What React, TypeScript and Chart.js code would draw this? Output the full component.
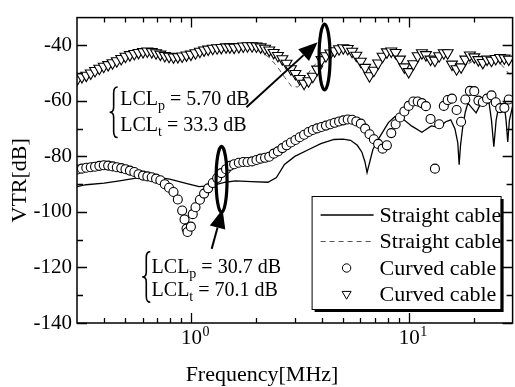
import React, { useEffect, useRef } from 'react';
import { Chart, registerables } from 'chart.js';

Chart.register(...registerables);

const FONT = '"Liberation Serif", "Times New Roman", serif';

// ---------- data ----------
const markerFreqMHz = [
  0.302, 0.316, 0.331, 0.347, 0.363, 0.380, 0.398, 0.417, 0.437, 0.457,
  0.479, 0.501, 0.525, 0.550, 0.575, 0.603, 0.631, 0.661, 0.692, 0.724,
  0.759, 0.794, 0.832, 0.871, 0.912, 0.955, 1.00, 1.05, 1.10, 1.15,
  1.20, 1.26, 1.32, 1.38, 1.45, 1.51, 1.58, 1.66, 1.74, 1.82,
  1.91, 2.00, 2.09, 2.19, 2.29, 2.40, 2.51, 2.63, 2.75, 2.88,
  3.02, 3.16, 3.31, 3.47, 3.63, 3.80, 3.98, 4.17, 4.37, 4.57,
  4.79, 5.01, 5.25, 5.50, 5.75, 6.03, 6.31, 6.61, 6.92, 7.24,
  7.59, 7.94, 8.32, 8.71, 9.12, 9.55, 10.0, 10.5, 11.0, 11.5,
  12.0, 12.6, 13.2, 13.8, 14.5, 15.1, 15.8, 16.6, 17.4, 18.2,
  19.1, 20.0, 20.9, 21.9, 22.9, 24.0, 25.1, 26.3, 27.5, 28.8,
];

const curvedTriangleVTR = [
  -52.0, -51.3, -50.8, -50.0, -49.1, -48.3, -47.6, -47.0, -46.3, -45.6,
  -44.8, -44.0, -43.4, -43.0, -42.6, -42.3, -42.1, -42.3, -42.7, -43.2,
  -43.7, -44.0, -44.2, -44.1, -43.9, -43.5, -43.2, -42.7, -42.2, -41.7,
  -41.4, -41.1, -40.9, -40.8, -40.6, -40.6, -40.7, -40.5, -40.3, -40.2,
  -40.2, -40.3, -40.6, -41.1, -41.7, -42.6, -43.7, -44.9, -46.5, -48.5,
  -50.2, -52.0, -53.7, -52.8, -51.2, -48.6, -45.2, -43.8, -42.8, -42.0,
  -41.3, -40.9, -41.2, -42.2, -43.6, -45.8, -48.0, -51.0, -49.0, -46.4,
  -44.0, -42.4, -42.1, -42.6, -45.0, -47.8, -49.5, -46.7, -43.8, -42.7,
  -43.4, -45.0, -45.4, -43.8, -42.7, -42.7, -46.8, -48.5, -47.8, -45.0,
  -43.5, -44.2, -45.2, -46.2, -45.0, -45.4, -44.8, -44.4, -44.6, -45.0,
];

const curvedCircleFreqMHz = [
  0.302, 0.316, 0.331, 0.347, 0.363, 0.380, 0.398, 0.417, 0.437, 0.457,
  0.479, 0.501, 0.525, 0.550, 0.575, 0.603, 0.631, 0.661, 0.692, 0.724,
  0.759, 0.794, 0.832, 0.871, 0.912, 0.935, 0.955, 0.965, 1.00, 1.02,
  1.05, 1.10, 1.15,
  1.20, 1.26, 1.32, 1.38, 1.45, 1.51, 1.58, 1.66, 1.74, 1.82,
  1.91, 2.00, 2.09, 2.19, 2.29, 2.40, 2.51, 2.63, 2.75, 2.88,
  3.02, 3.16, 3.31, 3.47, 3.63, 3.80, 3.98, 4.17, 4.37, 4.57,
  4.79, 5.01, 5.25, 5.50, 5.75, 6.03, 6.31, 6.61, 6.92, 7.24,
  7.59, 7.94, 8.32, 8.71, 9.12, 9.55, 10.0, 10.5, 11.0, 11.5,
  12.0, 12.6, 13.2, 13.8, 14.5, 15.1, 15.8, 16.6, 17.4, 18.2,
  19.1, 20.0, 20.9, 21.9, 22.9, 24.0, 25.1, 26.3, 27.5, 28.8,
];
const curvedCircleVTR = [
  -84.7, -84.4, -84.1, -83.9, -83.7, -83.4, -83.2, -83.3, -83.6, -83.9,
  -84.2, -84.6, -85.1, -85.6, -86.4, -86.9, -87.2, -87.5, -88.0, -88.6,
  -90.0, -91.3, -92.8, -95.5, -99.5, -102.7, -106.0, -107.2, -105.3, -100.8,
  -98.3, -95.6, -93.4,
  -91.5, -89.6, -87.8, -86.0, -84.6, -83.4, -82.8, -82.3, -82.0, -82.0,
  -81.8, -81.3, -80.8, -80.5, -80.1, -79.0, -78.2, -77.0, -76.0, -75.0,
  -74.1, -73.1, -72.2, -71.2, -70.5, -69.9, -69.4, -68.9, -68.4, -67.9,
  -67.4, -67.0, -66.7, -66.8, -67.4, -68.2, -70.0, -72.0, -73.8, -75.5,
  -77.2, -76.0, -71.6, -68.4, -66.0, -63.8, -61.8, -60.2, -60.2, -60.8,
  -61.9, -66.5, -84.4, -68.4, -61.8, -59.7, -59.2, -63.3, -67.5, -59.5,
  -56.4, -56.5, -59.9, -60.4, -59.2, -58.0, -60.5, -62.6, -62.5, -59.5,
];

const straightSolidFreqMHz = [
  0.30, 0.33, 0.40, 0.47, 0.56, 0.67, 0.80, 0.95, 1.09, 1.25,
  1.44, 1.60, 1.90, 2.26, 2.47, 2.69, 3.00, 3.44, 3.95, 4.54,
  5.00, 5.41, 5.81, 6.10, 6.30, 6.44, 6.60, 6.85, 7.28, 8.07,
  8.63, 9.25, 10.3, 11.5, 12.7, 13.8, 14.8, 15.6, 16.3, 16.8,
  17.05, 17.3, 17.7, 18.2, 18.7, 19.5, 20.4, 21.1, 21.8, 23.4,
  24.0, 24.6, 25.2, 25.9, 27.4, 28.0, 28.5, 29.0, 30.0,
];
const straightSolidVTR = [
  -90.9, -90.2, -89.6, -88.8, -87.8, -87.3, -88.2, -89.7, -90.9, -90.5,
  -89.3, -88.8, -89.1, -89.3, -87.6, -82.9, -80.0, -77.7, -75.4, -73.9,
  -73.8, -74.2, -76.0, -78.5, -82.0, -85.8, -82.5, -77.5, -73.6, -67.8,
  -65.7, -66.0, -69.0, -71.3, -69.0, -69.5, -67.5, -66.8, -70.0, -75.0,
  -83.0, -76.0, -69.5, -64.0, -60.8, -62.5, -64.3, -62.0, -60.8, -60.8,
  -67.0, -76.5, -67.0, -62.0, -60.8, -67.0, -74.8, -67.0, -62.0,
];

const straightDashedFreqMHz = [
  0.30, 0.35, 0.40, 0.45, 0.50, 0.56, 0.63, 0.70, 0.80, 0.90,
  1.00, 1.15, 1.30, 1.50, 1.70, 1.90, 2.10, 2.30, 2.50, 2.70,
  2.90, 3.10, 3.30, 3.60, 4.00, 4.50, 5.00, 5.50, 6.00, 6.40,
  6.80, 7.30, 8.00, 8.60, 9.20, 9.80, 10.3, 11.0, 11.8, 12.6,
  13.4, 14.3, 15.2, 16.0, 16.8, 17.6, 18.7, 20.0, 21.5, 23.0,
  24.5, 26.0, 27.3, 28.7, 30.0,
];
const straightDashedVTR = [
  -52.5, -50.6, -48.0, -46.2, -44.4, -43.3, -42.6, -43.1, -44.5, -44.6,
  -43.7, -42.2, -41.4, -41.0, -40.8, -41.0, -42.3, -44.5, -47.8, -51.6,
  -54.8, -55.0, -52.5, -48.0, -44.5, -42.3, -41.6, -43.0, -46.5, -50.5,
  -50.0, -46.5, -43.0, -43.2, -46.0, -49.5, -48.0, -44.5, -43.5, -45.5,
  -46.0, -43.5, -44.5, -48.0, -49.5, -48.0, -46.7, -45.5, -47.0, -46.0,
  -46.2, -46.0, -47.9, -50.0, -51.0,
];

const yTickValues = [-140, -120, -100, -80, -60, -40];
const yMinorTickValues = [-130, -110, -90, -70, -50];
const xMajorTickValues = [1, 10];
const xMajorTickExponents = ['0', '1'];
const xMinorTickValues = [0.4, 0.5, 0.6, 0.7, 0.8, 0.9, 2, 3, 4, 5, 6, 7, 8, 9, 20];

const xTitle = 'Frequency[MHz]';
const yTitle = 'VTR[dB]';
const legendOrder = [2, 3, 0, 1];

// annotation anchors (data coordinates)
const lclBlocks = [
  {
    braceF: 0.442, topV: -55.0, bottomV: -73.2, textF: 0.474,
    lines: [
      { sub: 'p', rest: ' = 5.70 dB', v: -61.6 },
      { sub: 't', rest: ' = 33.3 dB', v: -70.7 },
    ],
  },
  {
    braceF: 0.624, topV: -114.3, bottomV: -132.5, textF: 0.66,
    lines: [
      { sub: 'p', rest: ' = 30.7 dB', v: -122.0 },
      { sub: 't', rest: ' = 70.1 dB', v: -130.4 },
    ],
  },
];
const arrows = [
  { fromF: 1.80, fromV: -62.3, toF: 3.82, toV: -38.9 },
  { fromF: 1.246, fromV: -113.3, toF: 1.398, toV: -99.0 },
];
const rings = [
  { f: 4.11, v: -44.2 },
  { f: 1.383, v: -88.3 },
];

function toPoints(xs: number[], ys: number[]) {
  return xs.map((x, i) => ({ x, y: ys[i] }));
}

function drawArrow(ctx: CanvasRenderingContext2D, x1: number, y1: number, x2: number, y2: number, headLen: number, headW: number) {
  const ang = Math.atan2(y2 - y1, x2 - x1);
  const bx = x2 - headLen * Math.cos(ang);
  const by = y2 - headLen * Math.sin(ang);
  ctx.beginPath();
  ctx.moveTo(x1, y1);
  ctx.lineTo(bx, by);
  ctx.lineWidth = 2;
  ctx.stroke();
  const px = (-Math.sin(ang) * headW) / 2;
  const py = (Math.cos(ang) * headW) / 2;
  ctx.beginPath();
  ctx.moveTo(x2, y2);
  ctx.lineTo(bx + px, by + py);
  ctx.lineTo(bx - px, by - py);
  ctx.closePath();
  ctx.fill();
}

function drawBrace(ctx: CanvasRenderingContext2D, x: number, yTop: number, yBot: number) {
  const mid = (yTop + yBot) / 2;
  const w = 4;
  ctx.beginPath();
  ctx.moveTo(x + w, yTop);
  ctx.quadraticCurveTo(x, yTop, x, yTop + 6);
  ctx.lineTo(x, mid - 5);
  ctx.quadraticCurveTo(x, mid, x - w, mid);
  ctx.quadraticCurveTo(x, mid, x, mid + 5);
  ctx.lineTo(x, yBot - 6);
  ctx.quadraticCurveTo(x, yBot, x + w, yBot);
  ctx.lineWidth = 1.6;
  ctx.stroke();
}

function drawMarker(ctx: CanvasRenderingContext2D, style: string, x: number, y: number, r: number, rotationDeg: number) {
  ctx.beginPath();
  if (style === 'triangle') {
    let rad = (rotationDeg * Math.PI) / 180;
    ctx.moveTo(x + Math.sin(rad) * r, y - Math.cos(rad) * r);
    rad += (2 * Math.PI) / 3;
    ctx.lineTo(x + Math.sin(rad) * r, y - Math.cos(rad) * r);
    rad += (2 * Math.PI) / 3;
    ctx.lineTo(x + Math.sin(rad) * r, y - Math.cos(rad) * r);
    ctx.closePath();
  } else {
    ctx.arc(x, y, r, 0, Math.PI * 2);
  }
  ctx.fillStyle = '#fff';
  ctx.fill();
  ctx.strokeStyle = '#000';
  ctx.lineWidth = 1;
  ctx.stroke();
}

const decorPlugin = {
  id: 'decor',
  afterDatasetsDraw(chart: any) {
    const { ctx, chartArea: a, scales } = chart;
    const xs = scales.x;
    const ys = scales.y;
    ctx.save();
    ctx.strokeStyle = '#000';
    ctx.fillStyle = '#000';

    // frame
    ctx.lineWidth = 1.5;
    ctx.strokeRect(a.left, a.top, a.right - a.left, a.bottom - a.top);

    // tick marks (inward)
    ctx.lineWidth = 1.3;
    ctx.beginPath();
    const xt = (v: number, len: number) => {
      const px = Math.round(xs.getPixelForValue(v)) + 0.5;
      ctx.moveTo(px, a.bottom);
      ctx.lineTo(px, a.bottom - len);
      ctx.moveTo(px, a.top);
      ctx.lineTo(px, a.top + len);
    };
    xMajorTickValues.forEach((v) => xt(v, 10));
    xMinorTickValues.forEach((v) => xt(v, 5));
    const yt = (v: number, len: number) => {
      const py = Math.round(ys.getPixelForValue(v)) + 0.5;
      ctx.moveTo(a.left, py);
      ctx.lineTo(a.left + len, py);
      ctx.moveTo(a.right, py);
      ctx.lineTo(a.right - len, py);
    };
    yTickValues.forEach((v) => yt(v, 10));
    yMinorTickValues.forEach((v) => yt(v, 6));
    ctx.stroke();

    // x tick labels 10^n
    ctx.textBaseline = 'alphabetic';
    ctx.textAlign = 'left';
    xMajorTickValues.forEach((v, i) => {
      const px = xs.getPixelForValue(v);
      ctx.font = `21px ${FONT}`;
      const w10 = ctx.measureText('10').width;
      const x0 = px - 10;
      ctx.fillText('10', x0, a.bottom + 21);
      ctx.font = `14px ${FONT}`;
      ctx.fillText(xMajorTickExponents[i], x0 + w10 + 0.5, a.bottom + 13);
    });

    // axis titles
    ctx.font = `22px ${FONT}`;
    ctx.textAlign = 'center';
    ctx.fillText(xTitle, 262, a.bottom + 58);
    ctx.save();
    ctx.translate(a.left - 57, (a.top + a.bottom) / 2 + 10);
    ctx.rotate(-Math.PI / 2);
    ctx.textBaseline = 'middle';
    ctx.fillText(yTitle, 0, 0);
    ctx.restore();

    // LCL annotation blocks
    lclBlocks.forEach((b) => {
      const bx = xs.getPixelForValue(b.braceF);
      drawBrace(ctx, bx, ys.getPixelForValue(b.topV), ys.getPixelForValue(b.bottomV));
      const tx = xs.getPixelForValue(b.textF);
      b.lines.forEach((ln) => {
        const ty = ys.getPixelForValue(ln.v);
        ctx.textAlign = 'left';
        ctx.textBaseline = 'alphabetic';
        ctx.font = `20px ${FONT}`;
        ctx.fillText('LCL', tx, ty);
        let cx = tx + ctx.measureText('LCL').width;
        ctx.font = `14px ${FONT}`;
        ctx.fillText(ln.sub, cx, ty + 5);
        cx += ctx.measureText(ln.sub).width;
        ctx.font = `20px ${FONT}`;
        ctx.fillText(ln.rest, cx, ty);
      });
    });

    // rotation rings
    rings.forEach((r) => {
      ctx.beginPath();
      ctx.ellipse(xs.getPixelForValue(r.f), ys.getPixelForValue(r.v), 5.5, 33, 0, 0, Math.PI * 2);
      ctx.lineWidth = 3.2;
      ctx.stroke();
    });

    // arrows
    arrows.forEach((ar) => {
      drawArrow(
        ctx,
        xs.getPixelForValue(ar.fromF), ys.getPixelForValue(ar.fromV),
        xs.getPixelForValue(ar.toF), ys.getPixelForValue(ar.toV),
        19, 16,
      );
    });

    // legend
    const boxW = 189;
    const boxH = 113;
    const bxR = a.right - 12;
    const bxB = a.bottom - 14;
    const lx = bxR - boxW;
    const ly = bxB - boxH;
    ctx.fillStyle = '#000';
    ctx.fillRect(lx + 3, ly + 3, boxW, boxH);
    ctx.fillStyle = '#fff';
    ctx.fillRect(lx, ly, boxW, boxH);
    ctx.lineWidth = 1;
    ctx.strokeStyle = '#000';
    ctx.strokeRect(lx + 0.5, ly + 0.5, boxW, boxH);
    const rowY = [19, 45.5, 72, 98];
    legendOrder.forEach((di, i) => {
      const ds = chart.data.datasets[di];
      const cy = ly + rowY[i];
      if (ds.showLine === false) {
        drawMarker(ctx, ds.pointStyle, lx + 35, cy, ds.pointStyle === 'triangle' ? 5.2 : 4.2, ds.pointRotation || 0);
      } else {
        ctx.beginPath();
        ctx.setLineDash(ds.borderDash || []);
        ctx.strokeStyle = ds.borderColor;
        ctx.lineWidth = ds.borderWidth;
        ctx.moveTo(lx + 9, cy);
        ctx.lineTo(lx + 62, cy);
        ctx.stroke();
        ctx.setLineDash([]);
      }
      ctx.fillStyle = '#000';
      ctx.font = `22px ${FONT}`;
      ctx.textAlign = 'left';
      ctx.textBaseline = 'middle';
      ctx.fillText(ds.label, lx + 68, cy + 1);
    });

    ctx.restore();
  },
};

export default function App() {
  const ref = useRef<HTMLCanvasElement | null>(null);

  useEffect(() => {
    const canvas = ref.current;
    if (!canvas) return;
    const chart = new Chart(canvas, {
      type: 'line',
      data: {
        datasets: [
          {
            label: 'Curved cable',
            data: toPoints(curvedCircleFreqMHz, curvedCircleVTR),
            showLine: false,
            pointStyle: 'circle',
            pointRadius: 4.5,
            pointBackgroundColor: '#fff',
            pointBorderColor: '#000',
            pointBorderWidth: 1.1,
            order: 0,
          },
          {
            label: 'Curved cable',
            data: toPoints(markerFreqMHz, curvedTriangleVTR),
            showLine: false,
            pointStyle: 'triangle',
            pointRotation: 180,
            pointRadius: 6.3,
            pointBackgroundColor: '#fff',
            pointBorderColor: '#000',
            pointBorderWidth: 1.1,
            order: 0,
          },
          {
            label: 'Straight cable',
            data: toPoints(straightSolidFreqMHz, straightSolidVTR),
            borderColor: '#000',
            borderWidth: 1.3,
            pointRadius: 0,
            tension: 0,
            fill: false,
            order: 1,
          },
          {
            label: 'Straight cable',
            data: toPoints(straightDashedFreqMHz, straightDashedVTR),
            borderColor: '#555',
            borderWidth: 1,
            borderDash: [5, 4],
            pointRadius: 0,
            tension: 0,
            fill: false,
            order: 1,
          },
        ] as any,
      },
      options: {
        responsive: false,
        animation: false,
        devicePixelRatio: 1,
        layout: { padding: { top: 8, right: 3, left: 0, bottom: 0 } },
        plugins: { legend: { display: false }, tooltip: { enabled: false } },
        scales: {
          x: {
            type: 'logarithmic',
            min: 0.3,
            max: 30,
            grid: { display: false, drawTicks: false },
            border: { display: false },
            ticks: { display: false },
            afterFit: (s: any) => { s.height = 64; },
          },
          y: {
            type: 'linear',
            min: -140,
            max: -30,
            grid: { display: false, drawTicks: false },
            border: { display: false },
            afterBuildTicks: (s: any) => { s.ticks = yTickValues.map((v) => ({ value: v })); },
            ticks: { color: '#000', padding: 5, font: { family: FONT, size: 21 } },
            afterFit: (s: any) => { s.width = 77; },
          },
        },
      } as any,
      plugins: [decorPlugin],
    });
    return () => chart.destroy();
  }, []);

  return (
    <div style={{ position: 'fixed', left: 0, top: 0, width: 520, height: 387, background: '#fff' }}>
      <canvas ref={ref} width={520} height={387} style={{ display: 'block', width: 520, height: 387 }} />
    </div>
  );
}
